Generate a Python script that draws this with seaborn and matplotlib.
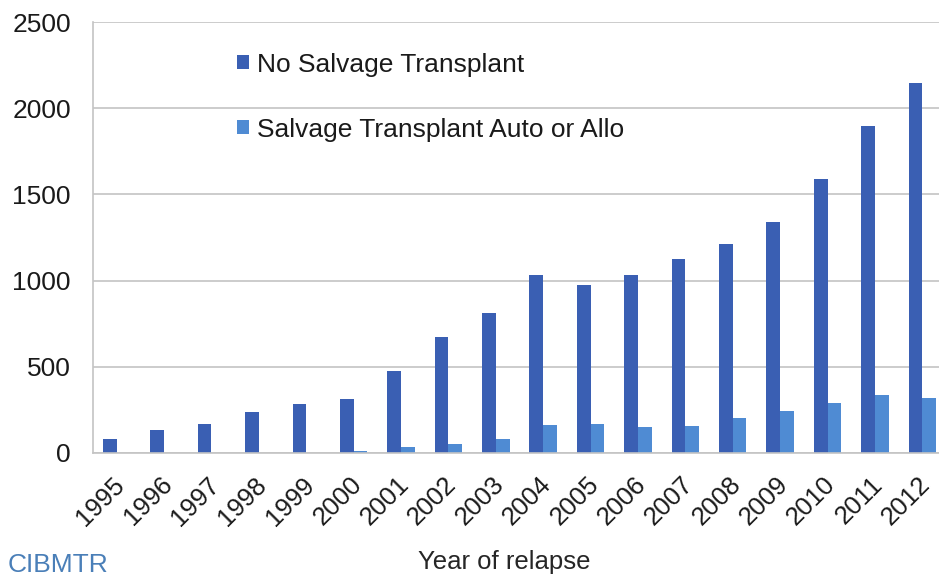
import pandas as pd
import matplotlib
matplotlib.use("Agg")
import matplotlib.pyplot as plt
import seaborn as sns
from matplotlib.patches import Patch
from matplotlib.ticker import FixedLocator
import matplotlib.transforms as mtransforms

# -------------------------------
# Data
# -------------------------------
years = ["1995", "1996", "1997", "1998", "1999", "2000", "2001", "2002", "2003",
         "2004", "2005", "2006", "2007", "2008", "2009", "2010", "2011", "2012"]
no_salvage = [82, 135, 170, 240, 286, 315, 478, 673, 813,
              1031, 972, 1030, 1126, 1215, 1342, 1591, 1897, 2146]
salvage = [0, 0, 0, 0, 0, 12, 33, 55, 84,
           163, 171, 151, 157, 204, 243, 288, 336, 320]
series_names = ["No Salvage Transplant", "Salvage Transplant Auto or Allo"]
y_ticks = [0, 500, 1000, 1500, 2000, 2500]

colors = {series_names[0]: "#3a5fb3", series_names[1]: "#4f8bd3"}
grid_col = "#c4c4c4"
text_col = "#1a1a1a"

df = pd.concat([
    pd.DataFrame({"year": years, "count": no_salvage, "group": series_names[0]}),
    pd.DataFrame({"year": years, "count": salvage, "group": series_names[1]}),
], ignore_index=True)

# -------------------------------
# Plot
# -------------------------------
sns.set_theme(style="white")
plt.rcParams["font.family"] = ["Liberation Sans", "DejaVu Sans"]
plt.rcParams["text.color"] = text_col
plt.rcParams["xtick.labelcolor"] = text_col
plt.rcParams["ytick.labelcolor"] = text_col

fig = plt.figure(figsize=(9.39, 5.81), dpi=100)
ax = fig.add_axes([93 / 939, 1 - 453 / 581, 853 / 939, 431 / 581])

sns.barplot(data=df, x="year", y="count", hue="group", order=years,
            hue_order=series_names, palette=colors, width=0.58,
            saturation=1, linewidth=0, ax=ax, legend=False)

ax.set_ylim(0, 2500)
ax.set_xlim(-0.5, len(years) - 0.5)
ax.set_yticks(y_ticks)
ax.yaxis.grid(True, color=grid_col, linewidth=1.2)
ax.set_axisbelow(True)

for side in ["top", "right"]:
    ax.spines[side].set_visible(False)
for side in ["left", "bottom"]:
    ax.spines[side].set_color(grid_col)
    ax.spines[side].set_linewidth(1.2)

# ticks sit between the categories, labels at the centres
ax.xaxis.set_minor_locator(FixedLocator([i - 0.5 for i in range(len(years) + 1)]))
ax.tick_params(axis="x", which="major", length=0, pad=14, labelsize=18.5)
ax.tick_params(axis="x", which="minor", length=5, width=1.2, color=grid_col, direction="out")
ax.tick_params(axis="y", length=5, width=1.2, color=grid_col, direction="out",
               pad=11, labelsize=19)
shift = mtransforms.ScaledTranslation(-3 / 72, 0, fig.dpi_scale_trans)
for lab in ax.get_xticklabels():
    lab.set_rotation(45)
    lab.set_ha("right")
    lab.set_rotation_mode("anchor")
    lab.set_transform(lab.get_transform() + shift)

ax.set_ylabel("")
ax.set_xlabel("Year of relapse", fontsize=18.5)
ax.xaxis.set_label_coords(0.482, -0.225)

handles = [Patch(facecolor=colors[n], edgecolor="none", label=n) for n in series_names]
ax.legend(handles=handles, loc="upper left", bbox_to_anchor=(0.169, 0.929),
          frameon=False, fontsize=19, handlelength=0.45, handleheight=0.45,
          handletextpad=0.3, labelspacing=1.55, borderpad=0, borderaxespad=0)

# logo text at the lower left corner
fig.text(8 / 939, 4 / 581, "CIBMTR", fontsize=19, color="#4a7fb8",
         ha="left", va="bottom")

fig.savefig("out.png", dpi=100)
